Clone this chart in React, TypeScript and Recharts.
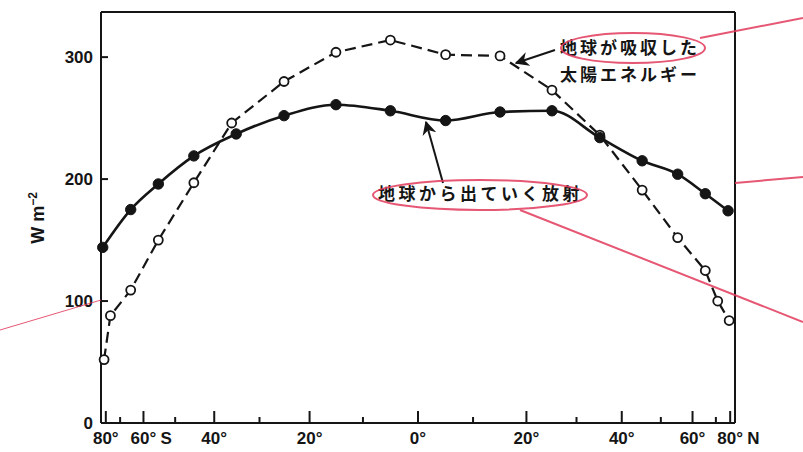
import { LineChart, Line, XAxis, YAxis } from "recharts";

// latitude (deg) and flux (W m-2)
const absorbedLat = [-82, -76, -65, -55, -45, -36, -25, -15, -5, 5, 15, 25, 35, 45, 55, 65, 71, 79];
const absorbedVal = [52, 88, 109, 150, 197, 246, 280, 304, 314, 302, 301, 273, 236, 191, 152, 125, 100, 84];
const outgoingLat = [-84, -65, -55, -45, -35, -25, -15, -5, 5, 15, 25, 35, 45, 55, 65, 78];
const outgoingVal = [144, 175, 196, 219, 237, 252, 261, 256, 248, 255, 256, 234, 215, 204, 188, 174];

const tickLats = [-80, -70, -60, -50, -40, -30, -20, -10, 0, 10, 20, 30, 40, 50, 60, 70, 80];
const majorLats = [-80, -60, -40, -20, 0, 20, 40, 60, 80];
const yTicks = [0, 100, 200, 300];

const W = 803;
const H = 452;
const FONT = '"Liberation Sans", Arial, sans-serif';
const JP = '"Noto Sans CJK JP", sans-serif';
const INK = "#151515";
const RED = "#e23a5c";

// area-weighted latitude axis
const toSin = (lat: number) => Math.sin((lat * Math.PI) / 180);
const toLat = (s: number) => Math.round((Math.asin(s) * 180) / Math.PI);

const absorbedData = absorbedLat.map((lat, i) => ({ x: toSin(lat), value: absorbedVal[i] }));
const outgoingData = outgoingLat.map((lat, i) => ({ x: toSin(lat), value: outgoingVal[i] }));

function BottomTick({ x, y, payload }: any) {
  const lat = toLat(payload.value);
  const major = majorLats.includes(lat);
  const len = major ? 12 : 6;
  const suffix = lat === -60 ? "S" : lat === 80 ? "N" : "";
  return (
    <g>
      <line x1={x} x2={x} y1={y} y2={y - len} stroke={INK} strokeWidth={2} />
      {major && (
        <text x={x} y={y + 21} textAnchor="middle" fontFamily={FONT} fontWeight="bold" fontSize={17} fill={INK}>
          {Math.abs(lat)}°
        </text>
      )}
      {suffix && (
        <text x={x + 17} y={y + 21} fontFamily={FONT} fontWeight="bold" fontSize={17} fill={INK}>
          {suffix}
        </text>
      )}
    </g>
  );
}

function TopTick({ x, y, payload }: any) {
  const lat = toLat(payload.value);
  const len = majorLats.includes(lat) ? 12 : 7;
  return <line x1={x} x2={x} y1={y} y2={y + len} stroke={INK} strokeWidth={2} />;
}

function LeftTick({ x, y, payload }: any) {
  return (
    <g>
      {payload.value > 0 && <line x1={x} x2={x + 7} y1={y} y2={y} stroke={INK} strokeWidth={2} />}
      <text x={x - 8} y={y + 6} textAnchor="end" fontFamily={FONT} fontWeight="bold" fontSize={17} fill={INK}>
        {payload.value}
      </text>
    </g>
  );
}

function RightTick({ x, y, payload }: any) {
  if (payload.value === 0) return <g />;
  return <line x1={x} x2={x - 8} y1={y} y2={y} stroke={INK} strokeWidth={2} />;
}

export default function App() {
  return (
    <div style={{ position: "absolute", left: 0, top: 0, width: W, height: H, background: "#fff" }}>
      <LineChart width={W} height={H} margin={{ top: 11, right: 67, bottom: 28, left: 100 }}>
        <XAxis
          xAxisId="bottom"
          type="number"
          dataKey="x"
          domain={[-1, 1]}
          ticks={tickLats.map(toSin)}
          height={1}
          tickLine={false}
          tickSize={0}
          tickMargin={0}
          tick={<BottomTick />}
          axisLine={{ stroke: INK, strokeWidth: 2 }}
          interval={0}
        />
        <XAxis
          xAxisId="top"
          orientation="top"
          type="number"
          dataKey="x"
          domain={[-1, 1]}
          ticks={tickLats.map(toSin)}
          height={1}
          tickLine={false}
          tickSize={0}
          tickMargin={0}
          tick={<TopTick />}
          axisLine={{ stroke: INK, strokeWidth: 2 }}
          interval={0}
        />
        <YAxis
          yAxisId="left"
          domain={[0, 337]}
          ticks={yTicks}
          width={1}
          tickLine={false}
          tickSize={0}
          tickMargin={0}
          tick={<LeftTick />}
          axisLine={{ stroke: INK, strokeWidth: 2 }}
          interval={0}
        />
        <YAxis
          yAxisId="right"
          orientation="right"
          domain={[0, 337]}
          ticks={yTicks}
          width={1}
          tickLine={false}
          tickSize={0}
          tickMargin={0}
          tick={<RightTick />}
          axisLine={{ stroke: INK, strokeWidth: 2 }}
          interval={0}
        />
        <Line
          xAxisId="bottom"
          yAxisId="left"
          data={absorbedData}
          dataKey="value"
          type="linear"
          stroke={INK}
          strokeWidth={2.2}
          strokeDasharray="11 6"
          dot={{ r: 4.5, fill: "#fff", stroke: INK, strokeWidth: 1.8, strokeDasharray: "" }}
          isAnimationActive={false}
        />
        <Line
          xAxisId="bottom"
          yAxisId="left"
          data={outgoingData}
          dataKey="value"
          type="monotone"
          stroke={INK}
          strokeWidth={2.6}
          dot={{ r: 5.2, fill: INK, stroke: INK, strokeWidth: 1 }}
          isAnimationActive={false}
        />
      </LineChart>

      <svg width={W} height={H} style={{ position: "absolute", left: 0, top: 0, pointerEvents: "none" }}>
        <defs>
          <marker id="head" viewBox="0 0 10 10" refX="9" refY="5" markerWidth="7" markerHeight="7" orient="auto">
            <path d="M0,0 L10,5 L0,10 L3,5 z" fill={INK} />
          </marker>
        </defs>
        <text
          x={44}
          y={218}
          transform="rotate(-90 44 218)"
          textAnchor="middle"
          fontFamily={FONT}
          fontWeight="bold"
          fontSize={18}
          fill={INK}
        >
          W m<tspan dy={-7} fontSize={12}>−2</tspan>
        </text>

        <text x={560} y={54} fontFamily={JP} fontWeight="bold" fontSize={17} letterSpacing={3} fill={INK}>
          地球が吸収した
        </text>
        <text x={560} y={81} fontFamily={JP} fontWeight="bold" fontSize={17} letterSpacing={3} fill={INK}>
          太陽エネルギー
        </text>
        <line x1={555} y1={50} x2={516} y2={63} stroke={INK} strokeWidth={2} markerEnd="url(#head)" />

        <text x={378} y={200} fontFamily={JP} fontWeight="bold" fontSize={17} letterSpacing={3.5} fill={INK}>
          地球から出ていく放射
        </text>
        <line x1={443} y1={183} x2={426} y2={122} stroke={INK} strokeWidth={2} markerEnd="url(#head)" />

        <g fill="none" stroke={RED} strokeWidth={2} opacity={0.85}>
          <ellipse cx={633} cy={48} rx={72} ry={15} />
          <line x1={700} y1={38} x2={803} y2={18} />
          <ellipse cx={480} cy={195} rx={107} ry={15} />
          <line x1={520} y1={210} x2={803} y2={322} />
          <line x1={735} y1={183} x2={803} y2={177} />
          <line x1={0} y1={330} x2={101} y2={300} strokeWidth={1} />
        </g>
      </svg>
    </div>
  );
}
